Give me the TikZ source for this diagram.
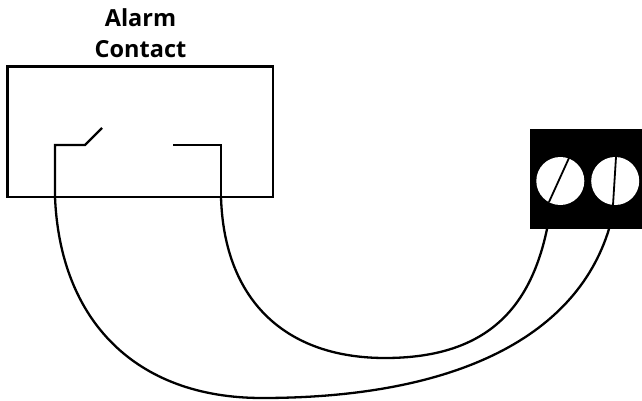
\documentclass[tikz,border=0pt]{standalone}
\usepackage{fontspec}
\setmainfont{Open Sans}
\usepackage{tikz}

\begin{document}
\begin{tikzpicture}
  [x=1pt,y=-1pt,line width=2.3pt,
   every node/.style={inner sep=0pt,outer sep=0pt},
   title/.style={font=\bfseries\fontsize{23.5}{31.5}\selectfont,align=center},
   screwhead/.style={circle,fill=white,minimum size=48pt},
   slot/.style={line width=1.8pt}]
  \useasboundingbox (0,0) rectangle (642,401);

  \node[title] (title) at (140.5,33) {Alarm\\Contact};
  \node[draw, minimum width=265.5pt, minimum height=130.5pt] (box) at (140.25,131.75) {};

  % contact
  \coordinate (c1) at (55,197);
  \coordinate (c2) at (55,145);
  \coordinate (c3) at (85,145);
  \coordinate (c4) at (102,128);
  \coordinate (c5) at (173,145);
  \coordinate (c6) at (221,145);
  \coordinate (c7) at (221,197);
  \draw[line join=miter] (c1) -- (c2) -- (c3) -- (c4);
  \draw (c5) -- (c6) -- (c7);

  % terminal block
  \node[fill=black, minimum width=112pt, minimum height=100pt] (block) at (586,179) {};
  \node[screwhead] (s1) at (560.3,181) {};
  \node[screwhead] (s2) at (615.2,181) {};
  \coordinate (s1a) at (569,158);
  \coordinate (s1b) at (549,202);
  \coordinate (s2a) at (616,157);
  \coordinate (s2b) at (613,205);
  \foreach \from/\to in {s1a/s1b,s2a/s2b}
    \draw[slot] (\from) -- (\to);

  % wires
  \coordinate (t1) at (547,229);
  \coordinate (t2) at (609,229);
  \coordinate (low1) at (385,358);
  \coordinate (low2) at (262,398);
  \draw (c7) .. controls (224,300) and (285,358) .. (low1)
             .. controls (485,358) and (530,310) .. (t1);
  \draw (c1) .. controls (60,320) and (135,398) .. (low2)
             .. controls (450,398) and (575,340) .. (t2);

\end{tikzpicture}
\end{document}
